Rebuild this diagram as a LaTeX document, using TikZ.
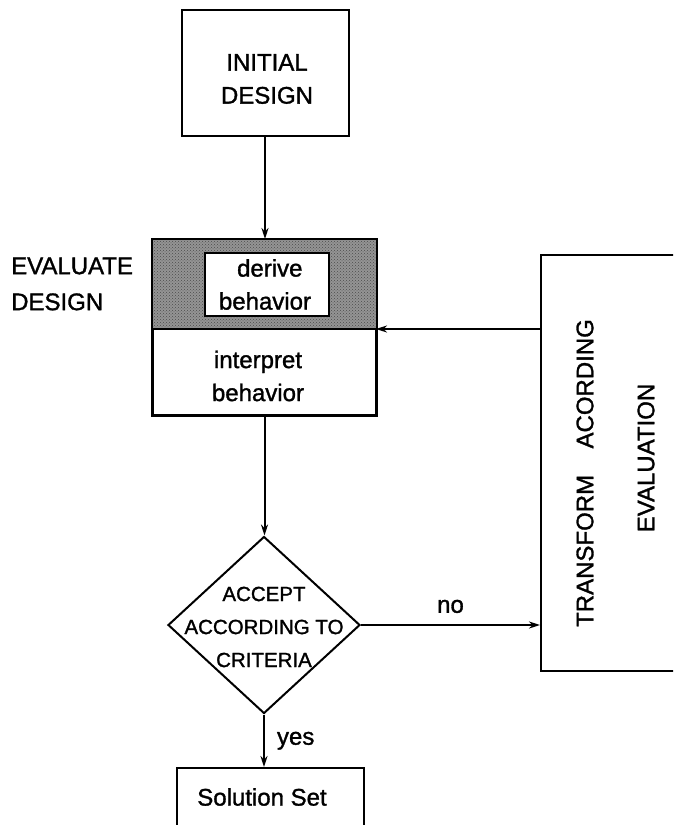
\documentclass[tikz,border=0pt]{standalone}
\usepackage{fontspec}
\setmainfont{Liberation Sans}[FakeBold=1.3]
\usetikzlibrary{shapes.geometric,arrows.meta,patterns}
\begin{document}
\begin{tikzpicture}[x=1pt,y=-1pt,
  lw/.style={line width=2pt},
  box/.style={draw, lw, rectangle, inner sep=0pt},
  txt/.style={font=\fontsize{24}{33}\selectfont, align=center, inner sep=0pt},
  dtxt/.style={font=\fontsize{20.5}{33}\selectfont, align=center, inner sep=0pt},
  arr/.style={lw, -{Stealth[length=11pt,width=7pt]}}]
\useasboundingbox (0,0) rectangle (673,825);
\clip (0,0) rectangle (673,825);
% initial design
\node[box, minimum width=167pt, minimum height=126pt] (init) at (265,73) {};
\node[txt] (inittxt) at (267,79) {INITIAL\\DESIGN};
% evaluate design
\node[box, minimum width=223pt, minimum height=175pt] (eval) at (264.5,327.5) {};
\coordinate (divE) at (376,329);
\fill[black!42] (eval.north west) rectangle (divE);
\fill[pattern=crosshatch dots, pattern color=black!70] (eval.north west) rectangle (divE);
\draw[lw] (eval.north west) rectangle (eval.south east);
\draw[lw] (eval.west |- divE) -- (divE);
\node[box, fill=white, minimum width=124pt, minimum height=63pt] (derive) at (267,284.5) {};
\node[txt] (derivetxt) at (265,284.5) {\hspace{0.4em}derive\\behavior};
\node[txt] (interp) at (258,376) {interpret\\behavior};
\node[txt, align=left, anchor=west, font=\fontsize{24}{36}\selectfont] (evallab) at (11,284) {EVALUATE\\DESIGN};
% decision
\node[diamond, draw, lw, minimum width=192pt, minimum height=177pt, inner sep=0pt] (dec) at (264,625) {};
\node[dtxt] (dectxt) at (264,627) {ACCEPT\\ACCORDING TO\\CRITERIA};
% solution
\node[box, minimum width=187pt, minimum height=90pt, anchor=north] (sol) at (270.5,767) {};
\node[txt] (soltxt) at (262,797) {Solution Set};
% transform
\node[box, minimum width=180pt, minimum height=416pt, anchor=north west] (trans) at (540,254) {};
\node[txt, rotate=90] (t1) at (585,473) {TRANSFORM\hspace{1.1em}ACORDING};
\node[txt, rotate=90] (t2) at (646,458) {EVALUATION};
% connectors
\draw[arr] (init.south) -- (init.south |- eval.north);
\draw[arr] (eval.south) -- (eval.south |- dec.north);
\draw[arr] (trans.west |- divE) -- (divE);
\draw[arr] (dec.east) -- (dec.east -| trans.west) node[midway, above=11pt, txt] (no) {no};
\draw[arr] (dec.south) -- (dec.south |- sol.north) node[midway, right=12pt, txt] (yes) {yes};
\end{tikzpicture}
\end{document}
